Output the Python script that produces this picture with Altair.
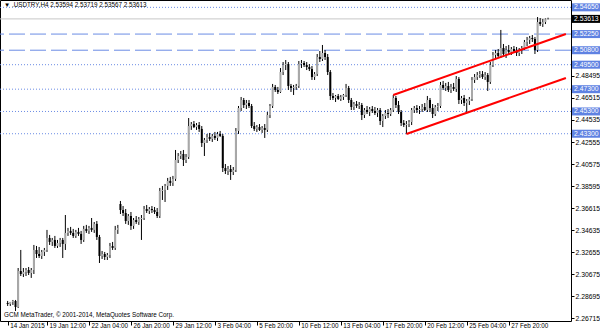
import altair as alt
import pandas as pd

FONT = "Liberation Sans"

opens = [2.2810, 2.2801, 2.2819, 2.2828, 2.2774, 2.3097, 2.3070, 2.3088, 2.3106, 2.3079,
 2.3106, 2.3286, 2.3250, 2.3232, 2.3268, 2.3286, 2.3394, 2.3358, 2.3376, 2.3322,
 2.3349, 2.3376, 2.3340, 2.3439, 2.3457, 2.3439, 2.3412, 2.3448, 2.3430, 2.3376,
 2.3475, 2.3457, 2.3484, 2.3466, 2.3520, 2.3403, 2.3232, 2.3250, 2.3223, 2.3241,
 2.3322, 2.3304, 2.3466, 2.3699, 2.3645, 2.3618, 2.3546, 2.3591, 2.3502, 2.3555,
 2.3537, 2.3564, 2.3573, 2.3654, 2.3636, 2.3654, 2.3645, 2.3627, 2.3591, 2.3816,
 2.3825, 2.3861, 2.3906, 2.3888, 2.3924, 2.4094, 2.4130, 2.4148, 2.4094, 2.4121,
 2.4399, 2.4417, 2.4390, 2.4408, 2.4373, 2.4247, 2.4274, 2.4301, 2.4283, 2.4310,
 2.4292, 2.4328, 2.4310, 2.4022, 2.3995, 2.4013, 2.3986, 2.4004, 2.4355, 2.4561,
 2.4633, 2.4588, 2.4606, 2.4579, 2.4399, 2.4373, 2.4390, 2.4364, 2.4381, 2.4364,
 2.4498, 2.4579, 2.4750, 2.4723, 2.4705, 2.4884, 2.4947, 2.4956, 2.4759, 2.4741,
 2.4750, 2.4759, 2.4956, 2.4965, 2.4947, 2.4929, 2.4911, 2.4839, 2.4866, 2.5019,
 2.5001, 2.5055, 2.5019, 2.4884, 2.4669, 2.4651, 2.4669, 2.4642, 2.4660, 2.4678,
 2.4741, 2.4633, 2.4570, 2.4597, 2.4579, 2.4588, 2.4498, 2.4543, 2.4525, 2.4552,
 2.4534, 2.4516, 2.4543, 2.4444, 2.4489, 2.4516, 2.4507, 2.4543, 2.4651, 2.4588,
 2.4525, 2.4426, 2.4408, 2.4417, 2.4435, 2.4543, 2.4561, 2.4543, 2.4552, 2.4570,
 2.4543, 2.4633, 2.4561, 2.4507, 2.4570, 2.4579, 2.4768, 2.4741, 2.4759, 2.4723,
 2.4750, 2.4732, 2.4822, 2.4633, 2.4651, 2.4606, 2.4624, 2.4642, 2.4813, 2.4839,
 2.4857, 2.4866, 2.4839, 2.4857, 2.4795, 2.4947, 2.5037, 2.5055, 2.5028, 2.5100,
 2.5046, 2.5082, 2.5064, 2.5091, 2.5073, 2.5055, 2.5082, 2.5100, 2.5154, 2.5172,
 2.5190, 2.5181, 2.5082, 2.5333, 2.5315, 2.5333, 2.53594]

highs = [2.2828, 2.2819, 2.2837, 2.2837, 2.3124, 2.3286, 2.3124, 2.3124, 2.3133, 2.3124,
 2.3331, 2.3322, 2.3313, 2.3286, 2.3304, 2.3466, 2.3421, 2.3394, 2.3412, 2.3376,
 2.3394, 2.3394, 2.3600, 2.3484, 2.3493, 2.3475, 2.3466, 2.3484, 2.3457, 2.3502,
 2.3511, 2.3502, 2.3573, 2.3537, 2.3546, 2.3421, 2.3277, 2.3268, 2.3259, 2.3349,
 2.3358, 2.3502, 2.3511, 2.3726, 2.3681, 2.3654, 2.3609, 2.3627, 2.3573, 2.3591,
 2.3582, 2.3600, 2.3681, 2.3690, 2.3672, 2.3681, 2.3672, 2.3663, 2.3843, 2.3861,
 2.3879, 2.3933, 2.3942, 2.3951, 2.4184, 2.4157, 2.4175, 2.4184, 2.4148, 2.4471,
 2.4435, 2.4444, 2.4426, 2.4435, 2.4399, 2.4292, 2.4328, 2.4337, 2.4328, 2.4346,
 2.4346, 2.4355, 2.4328, 2.4058, 2.4040, 2.4049, 2.4031, 2.4381, 2.4579, 2.4660,
 2.4651, 2.4633, 2.4633, 2.4597, 2.4435, 2.4408, 2.4417, 2.4399, 2.4417, 2.4525,
 2.4597, 2.4777, 2.4768, 2.4750, 2.4920, 2.4974, 2.4992, 2.4974, 2.4777, 2.4768,
 2.4777, 2.4983, 2.4992, 2.4983, 2.4974, 2.4956, 2.4938, 2.4884, 2.5046, 2.5073,
 2.5127, 2.5082, 2.5046, 2.4902, 2.4696, 2.4678, 2.4687, 2.4678, 2.4687, 2.4777,
 2.4759, 2.4651, 2.4615, 2.4624, 2.4615, 2.4606, 2.4561, 2.4579, 2.4570, 2.4579,
 2.4570, 2.4561, 2.4561, 2.4507, 2.4543, 2.4552, 2.4561, 2.4678, 2.4669, 2.4624,
 2.4543, 2.4453, 2.4444, 2.4453, 2.4561, 2.4579, 2.4588, 2.4579, 2.4597, 2.4606,
 2.4669, 2.4651, 2.4597, 2.4588, 2.4606, 2.4795, 2.4804, 2.4786, 2.4795, 2.4777,
 2.4786, 2.4848, 2.4839, 2.4669, 2.4678, 2.4642, 2.4660, 2.4839, 2.4866, 2.4884,
 2.4893, 2.4893, 2.4884, 2.4875, 2.4974, 2.5064, 2.5082, 2.5091, 2.5262, 2.5136,
 2.5118, 2.5127, 2.5109, 2.5118, 2.5109, 2.5100, 2.5118, 2.5172, 2.5199, 2.5208,
 2.5217, 2.5199, 2.5378, 2.5369, 2.5360, 2.5365, 2.53719]

lows = [2.2783, 2.2783, 2.2792, 2.2738, 2.2765, 2.3052, 2.3043, 2.3052, 2.3061, 2.3035,
 2.3070, 2.3214, 2.3214, 2.3205, 2.3232, 2.3268, 2.3331, 2.3322, 2.3304, 2.3304,
 2.3313, 2.3214, 2.3286, 2.3412, 2.3421, 2.3394, 2.3394, 2.3412, 2.3340, 2.3358,
 2.3439, 2.3430, 2.3448, 2.3439, 2.3376, 2.3169, 2.3205, 2.3196, 2.3196, 2.3214,
 2.3286, 2.3286, 2.3430, 2.3609, 2.3591, 2.3520, 2.3511, 2.3466, 2.3475, 2.3520,
 2.3511, 2.3376, 2.3555, 2.3618, 2.3609, 2.3618, 2.3609, 2.3573, 2.3573, 2.3735,
 2.3717, 2.3825, 2.3861, 2.3861, 2.3906, 2.4067, 2.4103, 2.4040, 2.4067, 2.4103,
 2.4364, 2.4381, 2.4364, 2.4346, 2.4211, 2.4130, 2.4247, 2.4265, 2.4256, 2.4274,
 2.4265, 2.4301, 2.3986, 2.3968, 2.3959, 2.3915, 2.3959, 2.3986, 2.4328, 2.4534,
 2.4561, 2.4552, 2.4561, 2.4381, 2.4355, 2.4346, 2.4355, 2.4337, 2.4292, 2.4346,
 2.4471, 2.4561, 2.4705, 2.4687, 2.4696, 2.4857, 2.4902, 2.4723, 2.4705, 2.4678,
 2.4723, 2.4741, 2.4920, 2.4929, 2.4902, 2.4893, 2.4813, 2.4813, 2.4848, 2.4974,
 2.4983, 2.4992, 2.4857, 2.4633, 2.4633, 2.4615, 2.4633, 2.4624, 2.4633, 2.4660,
 2.4606, 2.4543, 2.4543, 2.4561, 2.4552, 2.4453, 2.4471, 2.4507, 2.4489, 2.4516,
 2.4498, 2.4480, 2.4408, 2.4390, 2.4462, 2.4471, 2.4489, 2.4525, 2.4561, 2.4507,
 2.4399, 2.4390, 2.4328, 2.4390, 2.4408, 2.4516, 2.4516, 2.4507, 2.4525, 2.4534,
 2.4525, 2.4525, 2.4471, 2.4489, 2.4534, 2.4561, 2.4723, 2.4714, 2.4705, 2.4696,
 2.4714, 2.4705, 2.4597, 2.4597, 2.4579, 2.4525, 2.4588, 2.4624, 2.4786, 2.4813,
 2.4831, 2.4822, 2.4813, 2.4714, 2.4777, 2.4929, 2.5010, 2.5019, 2.5010, 2.5019,
 2.5010, 2.5037, 2.5037, 2.5055, 2.5028, 2.5028, 2.5046, 2.5082, 2.5118, 2.5136,
 2.5154, 2.5046, 2.5064, 2.5298, 2.5289, 2.5315, 2.53567]

closes = [2.2801, 2.2819, 2.2828, 2.2774, 2.3097, 2.3070, 2.3088, 2.3106, 2.3079, 2.3106,
 2.3286, 2.3250, 2.3232, 2.3268, 2.3286, 2.3394, 2.3358, 2.3376, 2.3322, 2.3349,
 2.3376, 2.3340, 2.3439, 2.3457, 2.3439, 2.3412, 2.3448, 2.3430, 2.3376, 2.3475,
 2.3457, 2.3484, 2.3466, 2.3520, 2.3403, 2.3232, 2.3250, 2.3223, 2.3241, 2.3322,
 2.3304, 2.3466, 2.3484, 2.3645, 2.3618, 2.3546, 2.3591, 2.3502, 2.3555, 2.3537,
 2.3564, 2.3573, 2.3654, 2.3636, 2.3654, 2.3645, 2.3627, 2.3591, 2.3816, 2.3825,
 2.3861, 2.3906, 2.3888, 2.3924, 2.4094, 2.4130, 2.4148, 2.4094, 2.4121, 2.4399,
 2.4417, 2.4390, 2.4408, 2.4373, 2.4247, 2.4274, 2.4301, 2.4283, 2.4310, 2.4292,
 2.4328, 2.4310, 2.4022, 2.3995, 2.4013, 2.3986, 2.4004, 2.4355, 2.4561, 2.4633,
 2.4588, 2.4606, 2.4579, 2.4399, 2.4373, 2.4390, 2.4364, 2.4381, 2.4364, 2.4498,
 2.4579, 2.4750, 2.4723, 2.4705, 2.4884, 2.4947, 2.4956, 2.4759, 2.4741, 2.4750,
 2.4759, 2.4956, 2.4965, 2.4947, 2.4929, 2.4911, 2.4839, 2.4866, 2.5019, 2.5001,
 2.5055, 2.5019, 2.4884, 2.4669, 2.4651, 2.4669, 2.4642, 2.4660, 2.4678, 2.4741,
 2.4633, 2.4570, 2.4597, 2.4579, 2.4588, 2.4498, 2.4543, 2.4525, 2.4552, 2.4534,
 2.4516, 2.4543, 2.4444, 2.4489, 2.4516, 2.4507, 2.4543, 2.4651, 2.4588, 2.4525,
 2.4426, 2.4408, 2.4417, 2.4435, 2.4543, 2.4561, 2.4543, 2.4552, 2.4570, 2.4543,
 2.4633, 2.4561, 2.4507, 2.4570, 2.4579, 2.4768, 2.4741, 2.4759, 2.4723, 2.4750,
 2.4732, 2.4822, 2.4633, 2.4651, 2.4606, 2.4624, 2.4642, 2.4813, 2.4839, 2.4857,
 2.4866, 2.4839, 2.4857, 2.4795, 2.4947, 2.5037, 2.5055, 2.5028, 2.5100, 2.5046,
 2.5082, 2.5064, 2.5091, 2.5073, 2.5055, 2.5082, 2.5100, 2.5154, 2.5172, 2.5190,
 2.5181, 2.5082, 2.5333, 2.5315, 2.5333, 2.5359, 2.53613]

tick_idx = [0, 15, 31, 47, 63, 79, 95, 111, 127, 143, 159, 175, 191]
tick_labels = ["14 Jan 2015", "19 Jan 12:00", "22 Jan 04:00", "26 Jan 20:00",
               "29 Jan 12:00", "3 Feb 04:00", "5 Feb 20:00", "10 Feb 12:00",
               "13 Feb 04:00", "17 Feb 20:00", "20 Feb 12:00", "25 Feb 04:00",
               "27 Feb 20:00"]
price_ticks = [2.26715, 2.28695, 2.30675, 2.32655, 2.34635, 2.36615, 2.38595,
               2.40575, 2.42555, 2.44535, 2.46515, 2.48495]
level_prices = [2.54650, 2.52250, 2.50800, 2.49500, 2.47300, 2.45300, 2.43300]
level_kinds = ["dot", "dash", "dash", "dot", "dot", "dot", "dot"]
bid_price = [2.53613]
upper_idx = [147, 212.8]
upper_price = [2.4678, 2.5226]
lower_idx = [152, 212.8]
lower_price = [2.4328, 2.4831]
header_text = ["\u25bc .USDTRY,H4  2.53594 2.53719 2.53567 2.53613"]
footer_text = ["GCM MetaTrader, \u00a9 2001-2014, MetaQuotes Software Corp."]

BLUE = "#6b8ce4"
BOX = "#5f82e2"

n = len(closes)
df = pd.DataFrame({"i": list(range(n)), "o": opens, "h": highs, "l": lows, "c": closes})
df["up"] = df["c"] >= df["o"]
lv = pd.DataFrame({"p": level_prices, "kind": level_kinds})
bid = pd.DataFrame({"p": bid_price})
chan = pd.DataFrame({"i": upper_idx + lower_idx, "p": upper_price + lower_price,
                     "g": ["u", "u", "l", "l"]})

xs = alt.Scale(domain=[-1.01, 212.84], nice=False, zero=False)
ys = alt.Scale(domain=[2.2648, 2.5531], nice=False, zero=False)

label_expr = ("[" + ",".join("'%s'" % s for s in tick_labels) + "][indexof(["
              + ",".join(str(v) for v in tick_idx) + "], datum.value)]")
xaxis = alt.Axis(values=tick_idx, labelExpr=label_expr, title=None, grid=False,
                 domain=False, tickColor="black", tickSize=4, labelFont=FONT,
                 labelFontSize=6.3, labelColor="black", labelAlign="left",
                 labelBaseline="top", labelPadding=-3, labelOffset=2,
                 labelFlush=False, labelOverlap=False)
yaxis = alt.Axis(values=price_ticks, format=".5f", orient="right", title=None,
                 grid=False, domain=False, tickSize=3, tickColor="black",
                 labelFont=FONT, labelFontSize=6.8, labelColor="black",
                 labelPadding=1, labelAlign="left", labelBaseline="middle",
                 labelOverlap=False, labelFlush=False)

X = lambda f: alt.X(f, type="quantitative", scale=xs, axis=xaxis)
Y = lambda f: alt.Y(f, type="quantitative", scale=ys, axis=yaxis)

dots = alt.Chart(lv).transform_filter("datum.kind == 'dot'").mark_rule(
    color=BLUE, strokeWidth=1, strokeDash=[1, 2]).encode(y=Y("p"))
dashes = alt.Chart(lv).transform_filter("datum.kind == 'dash'").mark_rule(
    color=BLUE, strokeWidth=1, strokeDash=[16, 5]).encode(y=Y("p"))
bidline = alt.Chart(bid).mark_rule(color="#c8c8c8", strokeWidth=1).encode(y=Y("p"))

wicks = alt.Chart(df).mark_rule(color="black", strokeWidth=1).encode(
    x=X("i"), y=Y("l"), y2="h")
bodies = alt.Chart(df).mark_bar(size=2).encode(
    x=X("i"), y=Y("o"), y2="c",
    color=alt.condition("datum.up", alt.value("#a8a8a8"), alt.value("black")))

channel = alt.Chart(chan).mark_line(color="red", strokeWidth=2, clip=True).encode(
    x=X("i"), y=Y("p"), detail="g")

boxes = alt.Chart(lv).mark_tick(orient="horizontal", size=28, thickness=8,
                                color=BOX, opacity=1).encode(
    x=alt.value(586), y=Y("p"))
box_txt = alt.Chart(lv).mark_text(align="left", baseline="middle", color="white",
                                  font=FONT, fontSize=6.8).encode(
    x=alt.value(574), y=Y("p"), text=alt.Text("p:Q", format=".5f"))
bidbox = alt.Chart(bid).mark_tick(orient="horizontal", size=28, thickness=8,
                                  color="black", opacity=1).encode(
    x=alt.value(586), y=Y("p"))
bid_txt = alt.Chart(bid).mark_text(align="left", baseline="middle", color="white",
                                   font=FONT, fontSize=6.8).encode(
    x=alt.value(574), y=Y("p"), text=alt.Text("p:Q", format=".5f"))

header = alt.Chart(pd.DataFrame({"t": header_text})).mark_text(
    align="left", baseline="middle", font=FONT, fontSize=6.3, color="black").encode(
    x=alt.value(4), y=alt.value(5), text="t:N")
footer = alt.Chart(pd.DataFrame({"t": footer_text})).mark_text(
    align="left", baseline="middle", font=FONT, fontSize=6.3, color="black").encode(
    x=alt.value(4), y=alt.value(315), text="t:N")

chart = alt.layer(dots, dashes, bidline, wicks, bodies, channel, boxes, box_txt,
                  bidbox, bid_txt, header, footer).properties(
    width=571, height=321,
    padding={"left": 0, "top": 0, "right": 29, "bottom": 12},
    autosize=alt.AutoSizeParams(type="none"),
    background="white",
).configure_view(stroke="black", strokeWidth=1)

chart.save("out.html", embed_options={"renderer": "svg", "actions": False})
